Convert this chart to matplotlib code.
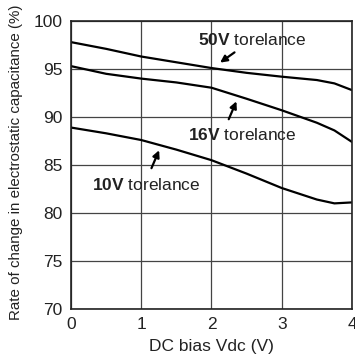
import numpy as np
import matplotlib
matplotlib.use("Agg")
import matplotlib.pyplot as plt

plt.rcParams['font.family'] = ['Liberation Sans', 'DejaVu Sans']
plt.rcParams['mathtext.fontset'] = 'custom'
plt.rcParams['mathtext.rm'] = 'Liberation Sans'
plt.rcParams['mathtext.bf'] = 'Liberation Sans:bold'

vdc = [0, 0.5, 1, 1.5, 2, 2.5, 3, 3.5, 3.75, 4]
v50 = [97.8, 97.1, 96.3, 95.7, 95.1, 94.6, 94.2, 93.85, 93.5, 92.8]
v16 = [95.3, 94.5, 94.0, 93.6, 93.05, 91.9, 90.7, 89.4, 88.6, 87.4]
v10 = [88.9, 88.3, 87.6, 86.6, 85.5, 84.1, 82.6, 81.4, 81.0, 81.1]

fig = plt.figure(figsize=(3.55, 3.58), dpi=100)
ax = fig.add_axes([0.2, 0.137, 0.7915, 0.8043])

for y in (v50, v16, v10):
    ax.plot(vdc, y, color='black', lw=1.6, solid_capstyle='round')

ax.set_xlim(0, 4)
ax.set_ylim(70, 100)
ax.set_xticks([0, 1, 2, 3, 4])
ax.set_yticks([70, 75, 80, 85, 90, 95, 100])
ax.grid(True, color='#444444', lw=0.9)
ax.tick_params(length=0, labelsize=12.5, pad=6, colors='#222222')
for s in ax.spines.values():
    s.set_linewidth(1.2)
    s.set_color('#222222')

ax.set_xlabel('DC bias Vdc (V)', fontsize=12.5, labelpad=5, color='#222222')
ax.set_ylabel('Rate of change in electrostatic capacitance (%)', fontsize=10.9, color='#222222')
ax.yaxis.set_label_coords(-0.171, 0.51)

arr = dict(arrowstyle='-|>', color='black', lw=1.6, mutation_scale=10)
ax.annotate('', xy=(2.09, 95.5), xytext=(2.36, 96.9), arrowprops=arr)
ax.annotate('', xy=(2.37, 91.9), xytext=(2.23, 89.5), arrowprops=arr)
ax.annotate('', xy=(1.27, 86.8), xytext=(1.13, 84.4), arrowprops=arr)

lab = dict(fontsize=12.5, va='center', ha='left', color='#222222')
ax.text(1.81, 98.0, r'$\mathbf{50V}$ torelance', **lab)
ax.text(1.66, 88.1, r'$\mathbf{16V}$ torelance', **lab)
ax.text(0.30, 82.9, r'$\mathbf{10V}$ torelance', **lab)

fig.savefig('out.png', dpi=100)
